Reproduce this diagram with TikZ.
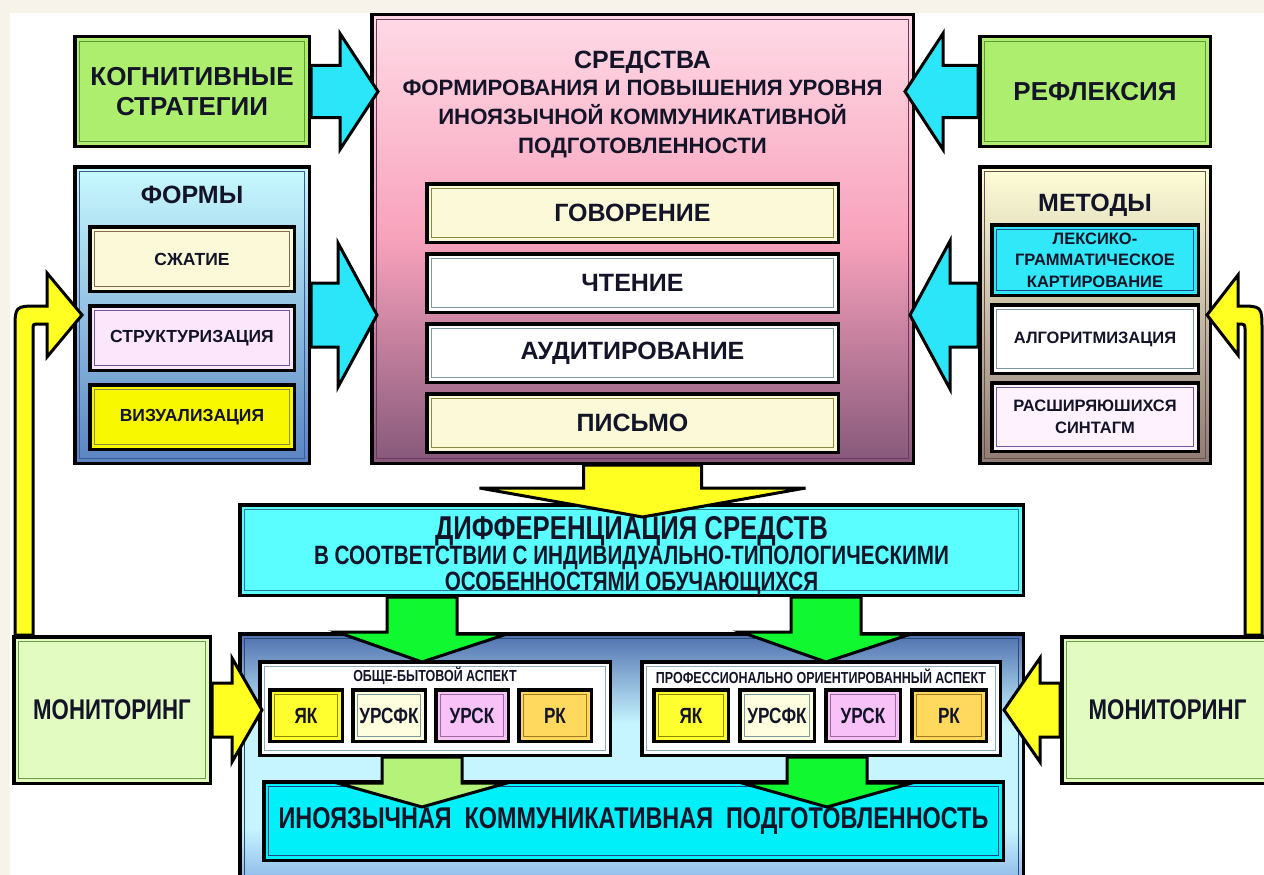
\documentclass[tikz,border=0pt]{standalone}
\usepackage{fontspec}
\setmainfont{Liberation Sans}
\newfontfamily\narrowfont[FakeStretch=0.78]{Liberation Sans}
\usepackage{xcolor}
\definecolor{PageBg}{HTML}{F7F3EA}
\definecolor{Ink}{HTML}{141428}
\definecolor{GreenFill}{HTML}{AEEE6E}
\definecolor{GreenLine}{HTML}{5A9A3A}
\definecolor{ArrowCyan}{HTML}{2BE6F9}
\definecolor{SredTop}{HTML}{FFDAE6}
\definecolor{SredMid}{HTML}{F8A2BC}
\definecolor{SredBot}{HTML}{86587A}
\definecolor{SredLine}{HTML}{6A3A5A}
\definecolor{FormyTop}{HTML}{C8FAFF}
\definecolor{FormyMid}{HTML}{9AD4F4}
\definecolor{FormyBot}{HTML}{5A84C2}
\definecolor{FormyLine}{HTML}{3A5A9A}
\definecolor{MetodyTop}{HTML}{FFFFD8}
\definecolor{MetodyMid}{HTML}{EED6BE}
\definecolor{MetodyBot}{HTML}{8E7A74}
\definecolor{MetodyLine}{HTML}{6A5048}
\definecolor{CreamFill}{HTML}{FBF9D8}
\definecolor{OliveLine}{HTML}{8A8A40}
\definecolor{BrownLine}{HTML}{8A6A50}
\definecolor{GreyLine}{HTML}{7A9AA0}
\definecolor{LavFill}{HTML}{FCE6FC}
\definecolor{LavLine}{HTML}{6A5A9A}
\definecolor{VizFill}{HTML}{F8F800}
\definecolor{LeksFill}{HTML}{30E8F8}
\definecolor{NavyLine}{HTML}{1A4A8A}
\definecolor{RasshFill}{HTML}{FFF2FF}
\definecolor{DiffFill}{HTML}{5AFEFF}
\definecolor{DiffLine}{HTML}{2A7A9A}
\definecolor{BottomTop}{HTML}{4F70AE}
\definecolor{BottomMid}{HTML}{C6F4FF}
\definecolor{BottomBot}{HTML}{8CB6E6}
\definecolor{BottomLine}{HTML}{2A4A7A}
\definecolor{PaleLine}{HTML}{8AAAC0}
\definecolor{InoFill}{HTML}{00F0FA}
\definecolor{MonFill}{HTML}{E2FBC0}
\definecolor{MonLine}{HTML}{6A9A4A}
\definecolor{ArrowYellow}{HTML}{FFFF22}
\definecolor{ArrowGreen}{HTML}{10F830}
\definecolor{ArrowPale}{HTML}{B4F27A}
\definecolor{YakFill}{HTML}{FFFF30}
\definecolor{YakLine}{HTML}{8A8A00}
\definecolor{UrsfkFill}{HTML}{FFFFE0}
\definecolor{UrskFill}{HTML}{F8C2F8}
\definecolor{UrskLine}{HTML}{9A6A9A}
\definecolor{RkFill}{HTML}{FFD95E}
\definecolor{RkLine}{HTML}{A07A20}
\usepackage{tikz}
\usetikzlibrary{calc,positioning}
\pgfdeclareverticalshading{sredshade}{100bp}{color(0bp)=(SredBot); color(25bp)=(SredBot);
  color(50bp)=(SredMid); color(75bp)=(SredTop); color(100bp)=(SredTop)}
\pgfdeclareverticalshading{bottomshade}{100bp}{color(0bp)=(BottomBot); color(25bp)=(BottomBot);
  color(36bp)=(BottomMid); color(57bp)=(BottomMid); color(75bp)=(BottomTop); color(100bp)=(BottomTop)}

\begin{document}
\begin{tikzpicture}[x=1pt, y=-1pt,
  box/.style={draw=black, line width=3.5pt, inner sep=2pt, align=center, text=Ink},
  inframe/.style={path picture={\draw[#1, line width=1.3pt]
      ([xshift=4.5pt,yshift=4.5pt]path picture bounding box.south west) rectangle
      ([xshift=-4.5pt,yshift=-4.5pt]path picture bounding box.north east);}},
  headtxt/.style={font=\bfseries\fontsize{25}{29}\selectfont, text=Ink, align=center},
  smalltxt/.style={font=\bfseries\fontsize{17.5}{21.5}\selectfont},
  condtxt/.style={font=\narrowfont\bfseries\fontsize{#1}{#1}\selectfont, text=Ink},
  skill/.style={box, headtxt, minimum width=411.5, minimum height=58.5},
  item/.style={box, smalltxt, minimum width=204.5, minimum height=64.5},
  mitem/.style={box, smalltxt, font=\bfseries\fontsize{16.5}{21.5}\selectfont, minimum width=206.5, minimum height=68.5},
  comp/.style={box, condtxt=22, minimum width=72.5, minimum height=51.5},
  blockarr/.style={draw=black, line width=3pt, line join=miter}]
  \useasboundingbox (0,0) rectangle (1264,875);
  \fill[PageBg] (0,0) rectangle (1264,875);
  \fill[white] (10,13) rectangle (1264,875);

  % top row
  \node[box, inframe=GreenLine, fill=GreenFill, minimum width=234.5, minimum height=109.5,
    font=\bfseries\fontsize{26}{30}\selectfont] (kog) at (192,91.5) {КОГНИТИВНЫЕ\\СТРАТЕГИИ};
  \node[box, inframe=GreenLine, fill=GreenFill, minimum width=230.5, minimum height=109.5,
    font=\bfseries\fontsize{26}{30}\selectfont] (refl) at (1095,91.5) {РЕФЛЕКСИЯ};

  % central block
  \node[box, inframe=SredLine, shading=sredshade, minimum width=541.5, minimum height=448.5] (sred) at (642.5,239) {};
  \node[headtxt] (sredtitle) at ($(sred.north)+(0,49)$) {СРЕДСТВА};
  \node[font=\bfseries\fontsize{22.2}{29}\selectfont, text=Ink, align=center] (sredsub)
    at ($(sred.north)+(0,106)$) {ФОРМИРОВАНИЯ И ПОВЫШЕНИЯ УРОВНЯ\\ИНОЯЗЫЧНОЙ КОММУНИКАТИВНОЙ\\ПОДГОТОВЛЕННОСТИ};
  \node[skill, inframe=OliveLine, fill=CreamFill, below=169pt of sred.north, xshift=-10pt] (govor) {ГОВОРЕНИЕ};
  \node[skill, inframe=GreyLine, fill=white, below=8pt of govor] (chten) {ЧТЕНИЕ};
  \node[skill, inframe=GreyLine, fill=white, below=8pt of chten] (audit) {АУДИТИРОВАНИЕ};
  \node[skill, inframe=OliveLine, fill=CreamFill, below=8pt of audit] (pismo) {ПИСЬМО};

  % forms
  \node[box, inframe=FormyLine, top color=FormyTop, middle color=FormyMid, bottom color=FormyBot,
    minimum width=234.5, minimum height=296.5] (formy) at (192,315) {};
  \node[headtxt] (formytitle) at ($(formy.north)+(0,30)$) {ФОРМЫ};
  \node[item, inframe=BrownLine, fill=CreamFill, below=60pt of formy.north] (szhat) {СЖАТИЕ};
  \node[item, inframe=LavLine, fill=LavFill, below=11pt of szhat] (strukt) {СТРУКТУРИЗАЦИЯ};
  \node[item, inframe=OliveLine, fill=VizFill, below=11pt of strukt] (vizual) {ВИЗУАЛИЗАЦИЯ};

  % methods
  \node[box, inframe=MetodyLine, top color=MetodyTop, middle color=MetodyMid, bottom color=MetodyBot,
    minimum width=230.5, minimum height=296.5] (metody) at (1095,315) {};
  \node[headtxt] (metodytitle) at ($(metody.north)+(0,40)$) {МЕТОДЫ};
  \node[mitem, inframe=NavyLine, fill=LeksFill, minimum height=70.5, below=58pt of metody.north] (leks)
    {ЛЕКСИКО-\\ГРАММАТИЧЕСКОЕ\\КАРТИРОВАНИЕ};
  \node[mitem, inframe=GreyLine, fill=white, below=6pt of leks] (algo) {АЛГОРИТМИЗАЦИЯ};
  \node[mitem, inframe=LavLine, fill=RasshFill, below=6pt of algo] (rassh) {РАСШИРЯЮШИХСЯ\\СИНТАГМ};

  % differentiation
  \node[box, inframe=DiffLine, fill=DiffFill, minimum width=783.5, minimum height=90.5] (diff) at (631.5,550) {};
  \node[condtxt=33] (difftitle) at ($(diff.north)+(0,28)$) {ДИФФЕРЕНЦИАЦИЯ СРЕДСТВ};
  \node[font=\narrowfont\bfseries\fontsize{26.5}{26}\selectfont, text=Ink, align=center] (diffsub)
    at ($(diff.north)+(0,68)$) {В СООТВЕТСТВИИ С ИНДИВИДУАЛЬНО-ТИПОЛОГИЧЕСКИМИ\\ОСОБЕННОСТЯМИ ОБУЧАЮЩИХСЯ};

  % bottom block
  \node[box, inframe=BottomLine, shading=bottomshade, minimum width=783.5, minimum height=249.5] (bottom) at (631.5,758.5) {};
  \node[box, inframe=PaleLine, fill=white, minimum width=350.5, minimum height=93.5] (obsh) at (435,708.5) {};
  \node[box, inframe=PaleLine, fill=white, minimum width=358.5, minimum height=93.5] (prof) at (821,708.5) {};
  \node[condtxt=16] (obshhead) at ($(obsh.north)+(0,16)$) {ОБЩЕ-БЫТОВОЙ АСПЕКТ};
  \node[condtxt=16] (profhead) at ($(prof.north)+(0,16)$) {ПРОФЕССИОНАЛЬНО ОРИЕНТИРОВАННЫЙ АСПЕКТ};
  \node[comp, inframe=YakLine, fill=YakFill, below right=28pt and 10pt of obsh.north west] (yak1) {ЯК};
  \node[comp, inframe=GreyLine, fill=UrsfkFill, right=7pt of yak1] (ursfk1) {УРСФК};
  \node[comp, inframe=UrskLine, fill=UrskFill, right=7pt of ursfk1] (ursk1) {УРСК};
  \node[comp, inframe=RkLine, fill=RkFill, right=7pt of ursk1] (rk1) {РК};
  \node[comp, minimum width=74.5, inframe=YakLine, fill=YakFill, below right=28pt and 12pt of prof.north west] (yak2) {ЯК};
  \node[comp, minimum width=74.5, inframe=GreyLine, fill=UrsfkFill, right=8pt of yak2] (ursfk2) {УРСФК};
  \node[comp, minimum width=74.5, inframe=UrskLine, fill=UrskFill, right=8pt of ursfk2] (ursk2) {УРСК};
  \node[comp, minimum width=74.5, inframe=RkLine, fill=RkFill, right=8pt of ursk2] (rk2) {РК};
  \node[box, condtxt=30, inframe=NavyLine, fill=InoFill, minimum width=739.5, minimum height=78.5] (inoyaz)
    at (633.5,821) {ИНОЯЗЫЧНАЯ\ \ КОММУНИКАТИВНАЯ\ \ ПОДГОТОВЛЕННОСТЬ};

  % monitoring
  \node[box, condtxt=28.5, inframe=MonLine, fill=MonFill, minimum width=196.5, minimum height=146.5] (monL) at (112,710) {МОНИТОРИНГ};
  \node[box, condtxt=28.5, inframe=MonLine, fill=MonFill, minimum width=211.5, minimum height=146.5] (monR) at (1167.5,710) {МОНИТОРИНГ};

  % block arrows
  \draw[blockarr, fill=ArrowCyan] ([yshift=26pt]kog.east) -- ++(29,0) -- ++(0,-32)
    -- ($(sred.west |- kog.east)+(8,0)$) -- ++(-38,58) -- ++(0,-32) -- ([yshift=-26pt]kog.east) -- cycle;
  \draw[blockarr, fill=ArrowCyan] ([yshift=26pt]refl.west) -- ++(-35,0) -- ++(0,-32)
    -- ($(sred.east |- refl.west)+(-10,0)$) -- ++(38,58) -- ++(0,-32) -- ([yshift=-26pt]refl.west) -- cycle;
  \draw[blockarr, fill=ArrowCyan] ([yshift=32pt]formy.east) -- ++(27,0) -- ++(0,-40)
    -- ($(sred.west |- formy.east)+(7,0)$) -- ++(-39,72) -- ++(0,-40) -- ([yshift=-32pt]formy.east) -- cycle;
  \draw[blockarr, fill=ArrowCyan] ([yshift=32pt]metody.west) -- ++(-28,0) -- ++(0,-42)
    -- ($(sred.east |- metody.west)+(-5,0)$) -- ++(40,74) -- ++(0,-42) -- ([yshift=-32pt]metody.west) -- cycle;
  \draw[blockarr, fill=ArrowYellow] ([xshift=-59pt]sred.south) -- ++(0,23) -- ++(-104,0)
    -- ($(sred.south)+(0,52)$) -- ++(163,-29) -- ++(-104,0) -- ([xshift=59pt]sred.south) -- cycle;
  \draw[blockarr, fill=ArrowGreen] ($(diff.south -| obsh.north)+(-48,0)$) -- ++(0,35) -- ++(-50,0)
    -- ($(obsh.north)+(-13,2)$) -- ++(85,-28) -- ++(-50,0) -- ($(diff.south -| obsh.north)+(22,0)$) -- cycle;
  \draw[blockarr, fill=ArrowGreen] ($(diff.south -| prof.north)+(-30,0)$) -- ++(0,35) -- ++(-50,0)
    -- ($(prof.north)+(5,2)$) -- ++(85,-28) -- ++(-50,0) -- ($(diff.south -| prof.north)+(40,0)$) -- cycle;
  \draw[blockarr, fill=ArrowPale] ($(obsh.south)+(-53,0)$) -- ++(0,26) -- ++(-45,0)
    -- ($(obsh.south)+(-13,50)$) -- ++(85,-24) -- ++(-45,0) -- ($(obsh.south)+(27,0)$) -- cycle;
  \draw[blockarr, fill=ArrowGreen] ($(prof.south)+(-34,0)$) -- ++(0,26) -- ++(-45,0)
    -- ($(prof.south)+(6,50)$) -- ++(85,-24) -- ++(-45,0) -- ($(prof.south)+(46,0)$) -- cycle;
  \draw[blockarr, fill=ArrowYellow] ([yshift=27pt]monL.east) -- ++(20,0) -- ++(0,-25)
    -- ($(obsh.west |- monL.east)+(4,0)$) -- ++(-30,52) -- ++(0,-25) -- ([yshift=-27pt]monL.east) -- cycle;
  \draw[blockarr, fill=ArrowYellow] ([yshift=27pt]monR.west) -- ++(-20,0) -- ++(0,-25)
    -- ($(prof.east |- monR.west)+(2,0)$) -- ++(36,52) -- ++(0,-25) -- ([yshift=-27pt]monR.west) -- cycle;
  % feedback arrows
  \draw[blockarr, fill=ArrowYellow] ($(monL.north west)+(3,0)$) -- (15,330) .. controls (15,306) .. (39,306)
    -- (47,306) -- (47,273) -- ($(formy.west)+(9,0)$) -- (47,357) -- (47,324) -- (39,324)
    .. controls (33,324) .. (33,330) -- ($(monL.north west)+(21,0)$) -- cycle;
  \draw[blockarr, fill=ArrowYellow] ($(monR.north west)+(202,0)$) -- (1262,330) .. controls (1262,306) .. (1238,306)
    -- (1238,275) -- ($(metody.east)+(-5,0)$) -- (1238,355) -- (1238,324)
    .. controls (1245,324) .. (1245,331) -- ($(monR.north west)+(185,0)$) -- cycle;
\end{tikzpicture}
\end{document}
